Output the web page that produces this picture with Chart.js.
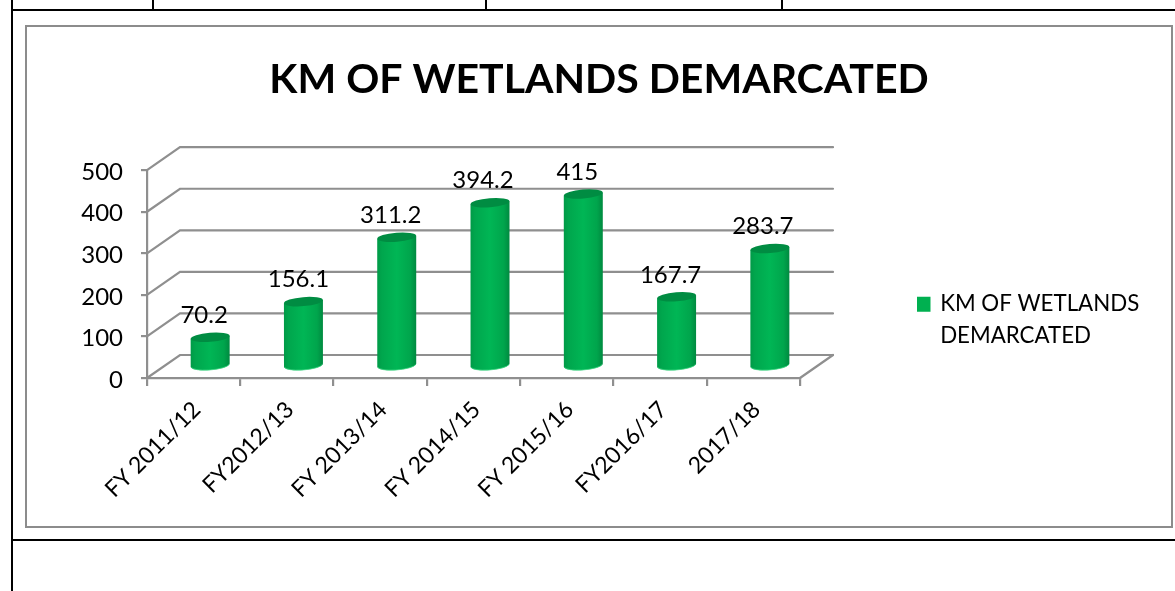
<!DOCTYPE html>
<html>
<head>
<meta charset="utf-8">
<title>KM OF WETLANDS DEMARCATED</title>
<script src="https://cdn.jsdelivr.net/npm/chart.js@4"></script>
<style>
  html, body { margin: 0; padding: 0; background: #fff; overflow: hidden; }
  .rule { position: absolute; background: #000; }
  #frame { position: absolute; left: 25px; top: 25px; width: 1144px; height: 499px; border: 2px solid #8c8c8c; }
  canvas { display: block; }
</style>
</head>
<body>
<div class="rule" style="left:11px;top:9px;width:1164px;height:2px"></div>
<div class="rule" style="left:11px;top:539px;width:1164px;height:2px"></div>
<div class="rule" style="left:11px;top:0;width:2px;height:591px"></div>
<div class="rule" style="left:152px;top:0;width:2px;height:10px"></div>
<div class="rule" style="left:485px;top:0;width:2px;height:10px"></div>
<div class="rule" style="left:781px;top:0;width:2px;height:10px"></div>
<div id="frame"><canvas id="wetlands" width="1144" height="499"></canvas></div>
<script>
const categories = ['FY 2011/12', 'FY2012/13', 'FY 2013/14', 'FY 2014/15', 'FY 2015/16', 'FY2016/17', '2017/18'];
const kmDemarcated = [70.2, 156.1, 311.2, 394.2, 415, 167.7, 283.7];
const yTicks = [0, 100, 200, 300, 400, 500];
const seriesName = 'KM OF WETLANDS DEMARCATED';
const legendLines = ['KM OF WETLANDS', 'DEMARCATED'];

const FONT = 'Lato, Carlito, sans-serif';
const GRID = '#8f8f8f';
const depthX = 33, depthY = -23;
// excel moves its labels sideways a bit
const labelNudge = [-6, -5, -6, -7, -6, -6, -7];

const wall3d = {
  id: 'wall3d',
  beforeDatasetsDraw(chart) {
    const { ctx, scales: { x, y } } = chart;
    const left = x.left, right = x.right;
    ctx.save();
    ctx.strokeStyle = GRID;
    ctx.lineWidth = 2.2;
    ctx.lineCap = 'round';
    yTicks.forEach(v => {
      const py = y.getPixelForValue(v);
      ctx.beginPath();
      ctx.moveTo(left, py);
      ctx.lineTo(left + depthX, py + depthY);
      ctx.lineTo(right + depthX, py + depthY);
      ctx.stroke();
    });
    // floor edge on the right
    const py0 = y.getPixelForValue(0);
    ctx.beginPath();
    ctx.moveTo(right, py0);
    ctx.lineTo(right + depthX, py0 + depthY);
    ctx.stroke();
    ctx.restore();
  }
};

const cylinders = {
  id: 'cylinders',
  beforeDatasetDraw(chart, args) {
    const { ctx } = chart;
    const bars = chart.getDatasetMeta(args.index).data;
    const tilt = -4.5 * Math.PI / 180;
    const ry = 4.5;
    bars.forEach((bar, i) => {
      const cx = bar.x + depthX / 2;
      const top = bar.y + depthY / 2;
      const base = bar.base + depthY / 2;
      const rx = bar.width / 2;
      const lift = rx * Math.sin(tilt);

      const g = ctx.createLinearGradient(cx - rx, 0, cx + rx, 0);
      g.addColorStop(0, '#009a47');
      g.addColorStop(0.12, '#00a64d');
      g.addColorStop(0.5, '#00b655');
      g.addColorStop(0.85, '#00a54c');
      g.addColorStop(1, '#008a40');

      ctx.save();
      ctx.fillStyle = g;
      ctx.beginPath();
      ctx.moveTo(cx - rx, top - lift);
      ctx.lineTo(cx + rx, top + lift);
      ctx.lineTo(cx + rx, base + lift);
      ctx.ellipse(cx, base, rx, ry, tilt, 0, Math.PI);
      ctx.closePath();
      ctx.fill();

      // lighter rim along the bottom
      ctx.strokeStyle = 'rgba(60, 215, 130, 0.8)';
      ctx.lineWidth = 1;
      ctx.beginPath();
      ctx.ellipse(cx, base, rx - 0.5, ry, tilt, 0.1, Math.PI - 0.1);
      ctx.stroke();

      ctx.fillStyle = '#008c42';
      ctx.beginPath();
      ctx.ellipse(cx, top, rx, ry, tilt, 0, Math.PI * 2);
      ctx.fill();

      ctx.fillStyle = '#000';
      ctx.font = '24px ' + FONT;
      ctx.textAlign = 'center';
      ctx.textBaseline = 'middle';
      ctx.fillText(String(kmDemarcated[i]), cx + labelNudge[i], top - 22);
      ctx.restore();
    });
    return false;
  }
};

const placeBoxes = {
  id: 'placeBoxes',
  afterLayout(chart) {
    const l = chart.legend;
    const w = l.width, h = l.height;
    l.left = 890; l.right = l.left + w;
    l.top = 266; l.bottom = l.top + h;
    // title is centred on the whole frame, not on the plot side
    chart.titleBlock.left = 0;
    chart.titleBlock.right = chart.width;
  }
};

new Chart(document.getElementById('wetlands').getContext('2d'), {
  type: 'bar',
  data: {
    labels: categories,
    datasets: [{
      label: seriesName,
      data: kmDemarcated,
      backgroundColor: '#00b050',
      barPercentage: 0.418,
      categoryPercentage: 1
    }]
  },
  plugins: [wall3d, cylinders, placeBoxes],
  options: {
    responsive: false,
    animation: false,
    layout: { padding: { left: 0, right: 371, top: 0, bottom: 0 } },
    scales: {
      x: {
        afterFit(scale) { scale.height = 148; },
        grid: { drawOnChartArea: false, color: GRID, lineWidth: 2.2, tickLength: 8, offset: true },
        border: { color: GRID, width: 2.2 },
        ticks: { color: '#000', font: { family: FONT, size: 23 }, minRotation: 45, maxRotation: 45, autoSkip: false, padding: 10, labelOffset: 3 }
      },
      y: {
        min: 0,
        max: 500,
        afterFit(scale) { scale.width = 120; },
        afterBuildTicks(scale) { scale.ticks = yTicks.map(v => ({ value: v })); },
        grid: { drawOnChartArea: false, color: GRID, lineWidth: 2.2, tickLength: 6 },
        border: { color: GRID, width: 2.2 },
        ticks: { color: '#000', font: { family: FONT, size: 24 }, padding: 18, labelOffset: 2 }
      }
    },
    plugins: {
      title: {
        display: true,
        text: 'KM OF WETLANDS DEMARCATED',
        color: '#000',
        font: { family: FONT, size: 41, weight: 'bold' },
        padding: { top: 28, bottom: 66 }
      },
      legend: {
        position: 'chartArea',
        align: 'start',
        labels: {
          color: '#000',
          font: { family: FONT, size: 22.3, lineHeight: 1.42 },
          boxWidth: 12,
          boxHeight: 12,
          padding: 0,
          generateLabels: () => [{ text: legendLines, fillStyle: '#00b050', strokeStyle: '#00b050', lineWidth: 3, datasetIndex: 0 }]
        }
      },
      tooltip: { enabled: false }
    }
  }
});
</script>
</body>
</html>
